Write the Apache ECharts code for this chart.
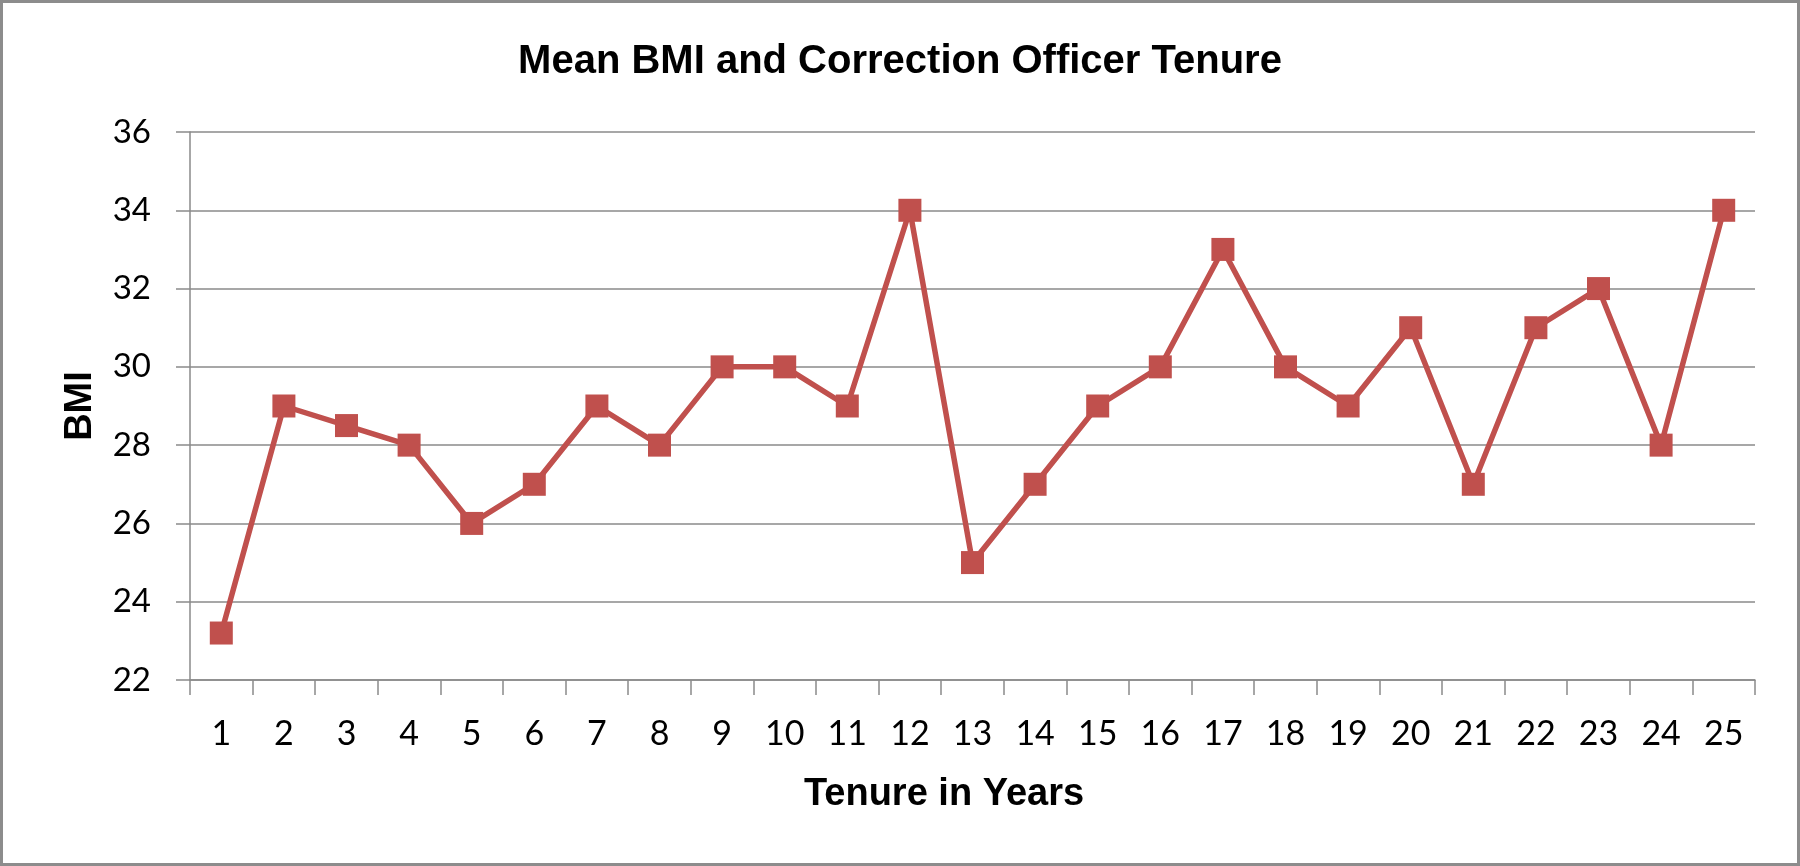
<!DOCTYPE html>
<html>
<head>
<meta charset="utf-8">
<script src="https://cdn.jsdelivr.net/npm/echarts@6/dist/echarts.min.js"></script>
<style>
html, body { margin: 0; padding: 0; background: #fff; }
#chart { width: 1800px; height: 866px; box-sizing: border-box; border: 3px solid #8c8c8c; }
</style>
</head>
<body>
<div id="chart"></div>
<script>
const categories = ['1','2','3','4','5','6','7','8','9','10','11','12','13','14','15','16','17','18','19','20','21','22','23','24','25'];
const bmiValues = [23.2, 29, 28.5, 28, 26, 27, 29, 28, 30, 30, 29, 34, 25, 27, 29, 30, 33, 30, 29, 31, 27, 31, 32, 28, 34];
const chartTitle = 'Mean BMI and Correction Officer Tenure';
const xTitle = 'Tenure in Years';
const yTitle = 'BMI';

const chart = echarts.init(document.getElementById('chart'), null, { renderer: 'canvas' });
const gridColor = '#8a8a8a';
chart.setOption({
  animation: false,
  backgroundColor: '#ffffff',
  title: [
    {
      text: chartTitle,
      left: 'center',
      top: 39,
      padding: 0,
      textStyle: { fontFamily: 'Liberation Sans', fontWeight: 'bold', fontSize: 40, color: '#000' }
    },
    {
      text: xTitle,
      left: 941,
      textAlign: 'center',
      top: 773,
      padding: 0,
      textStyle: { fontFamily: 'Liberation Sans', fontWeight: 'bold', fontSize: 38, color: '#000' }
    }
  ],
  grid: { left: 187, right: 42, top: 129, bottom: 183, containLabel: false },
  xAxis: {
    type: 'category',
    data: categories,
    boundaryGap: true,
    axisLine: { show: true, lineStyle: { color: gridColor, width: 1.5 } },
    axisTick: { show: true, length: 15, lineStyle: { color: gridColor, width: 1.5 } },
    axisLabel: { margin: 37, fontFamily: 'Lato', fontSize: 34, color: '#000', interval: 0 },
    splitLine: { show: false }
  },
  yAxis: {
    type: 'value',
    min: 22,
    max: 36,
    interval: 2,
    name: yTitle,
    nameLocation: 'middle',
    nameGap: 90,
    nameTextStyle: { fontFamily: 'Liberation Sans', fontWeight: 'bold', fontSize: 38, color: '#000' },
    axisLine: { show: true, lineStyle: { color: gridColor, width: 1.5 } },
    axisTick: { show: true, length: 14, lineStyle: { color: gridColor, width: 1.5 } },
    axisLabel: { margin: 39, fontFamily: 'Lato', fontSize: 33, color: '#000' },
    splitLine: { show: true, lineStyle: { color: gridColor, width: 1.5 } }
  },
  series: [{
    type: 'line',
    data: bmiValues,
    symbol: 'rect',
    symbolSize: 23,
    lineStyle: { color: '#C0504D', width: 5.5 },
    itemStyle: { color: '#C0504D' }
  }]
});
</script>
</body>
</html>
